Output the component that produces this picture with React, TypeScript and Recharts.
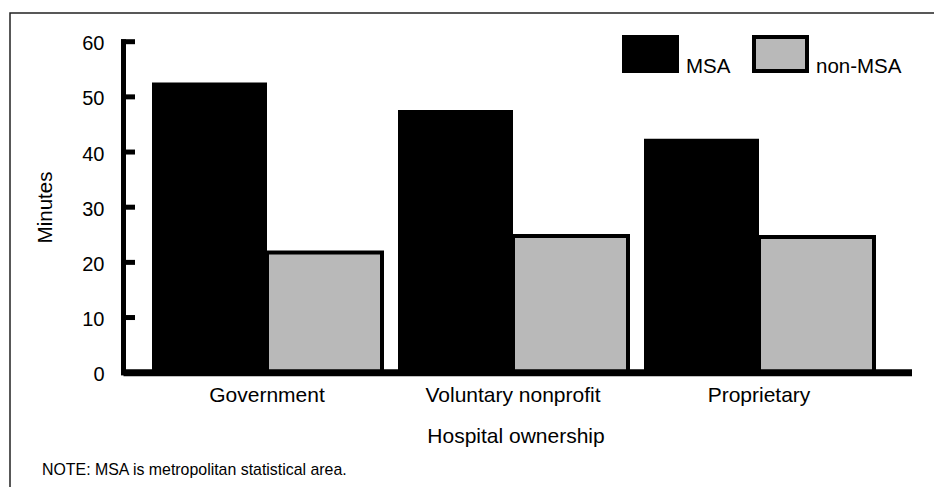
import React from 'react';
import { BarChart, Bar, XAxis, YAxis, Legend } from 'recharts';

const categories = ['Government', 'Voluntary nonprofit', 'Proprietary'];
const msaValues = [52.6, 47.6, 42.4];
const nonMsaValues = [21.8, 24.8, 24.6];
const yTicks = [0, 10, 20, 30, 40, 50, 60];
const seriesNames = { msa: 'MSA', nonMsa: 'non-MSA' };
const yAxisTitle = 'Minutes';
const xAxisTitle = 'Hospital ownership';
const noteText = 'NOTE: MSA is metropolitan statistical area.';

const data = categories.map((c, i) => ({ category: c, msa: msaValues[i], nonMsa: nonMsaValues[i] }));

const FONT = '"Liberation Sans", Arial, Helvetica, sans-serif';
const GRAY = '#b9b9b9';

const styles: Record<string, { fill: string; stroke?: string; strokeWidth?: number }> = {
  msa: { fill: '#000000' },
  nonMsa: { fill: GRAY, stroke: '#000000', strokeWidth: 4 },
};

const Y_MARGIN = 19;

const YTick = (props: any) => {
  const { x, y, payload } = props;
  const axisX = x + Y_MARGIN;
  return (
    <g>
      <line x1={axisX - 2.5} x2={axisX + 11.5} y1={y} y2={y} stroke="#000" strokeWidth={5} />
      <text x={x} y={y} dy={8.6} textAnchor="end" fontSize={20} fontFamily={FONT} fill="#000">
        {payload.value}
      </text>
    </g>
  );
};

const XTick = (props: any) => {
  const { x, y, payload } = props;
  return (
    <text x={x} y={y} dy={29.6} textAnchor="middle" fontSize={21} fontFamily={FONT} fill="#000">
      {payload.value}
    </text>
  );
};

const LegendContent = (props: any) => {
  const payload = props.payload || [];
  const positions = [0, 130];
  return (
    <svg width={300} height={42} style={{ display: 'block', overflow: 'visible' }}>
      {payload.map((entry: any, i: number) => {
        const key = entry.dataKey as string;
        const st = styles[key] || { fill: entry.color };
        const x0 = positions[i] ?? i * 130;
        const sw = st.strokeWidth || 0;
        return (
          <g key={key}>
            <rect
              x={x0 + sw / 2}
              y={sw / 2}
              width={57 - sw}
              height={38 - sw}
              fill={st.fill}
              stroke={st.stroke || 'none'}
              strokeWidth={sw}
            />
            <text x={x0 + 64} y={38} fontSize={20.5} fontFamily={FONT} fill="#000">
              {entry.value}
            </text>
          </g>
        );
      })}
    </svg>
  );
};

export default function App() {
  return (
    <div style={{ position: 'absolute', left: 0, top: 0, width: 934, height: 487, background: '#fff' }}>
      <BarChart
        width={934}
        height={487}
        data={data}
        margin={{ top: 41.7, right: 22, left: 3.5, bottom: 84.3 }}
        barGap={0}
      >
        <XAxis
          dataKey="category"
          height={30}
          tickSize={0}
          tickMargin={0}
          tickLine={false}
          axisLine={{ stroke: '#000', strokeWidth: 7 }}
          padding={{ left: 20.5, right: 30 }}
          tick={<XTick />}
          interval={0}
        />
        <YAxis
          width={120}
          domain={[0, 60]}
          ticks={yTicks}
          tickSize={0}
          tickMargin={Y_MARGIN}
          tickLine={false}
          axisLine={{ stroke: '#000', strokeWidth: 5, strokeLinecap: 'square' }}
          tick={<YTick />}
          interval={0}
        />
        <Legend
          layout="vertical"
          align="center"
          verticalAlign="middle"
          content={<LegendContent />}
          wrapperStyle={{ position: 'absolute', left: 622, top: 35, width: 300, height: 42 }}
        />
        <Bar dataKey="msa" name={seriesNames.msa} fill={styles.msa.fill} barSize={115} isAnimationActive={false} />
        <Bar
          dataKey="nonMsa"
          name={seriesNames.nonMsa}
          fill={styles.nonMsa.fill}
          stroke={styles.nonMsa.stroke}
          strokeWidth={styles.nonMsa.strokeWidth}
          barSize={115}
          isAnimationActive={false}
        />
      </BarChart>
      <svg
        width={934}
        height={487}
        style={{ position: 'absolute', left: 0, top: 0, pointerEvents: 'none' }}
      >
        <rect x={10} y={13} width={1000} height={1000} fill="none" stroke="#222" strokeWidth={1.5} />
        <text
          transform="translate(51.5,207.5) rotate(-90)"
          textAnchor="middle"
          fontSize={20.5}
          fontFamily={FONT}
          fill="#000"
        >
          {yAxisTitle}
        </text>
        <text x={516} y={443} textAnchor="middle" fontSize={21} fontFamily={FONT} fill="#000">
          {xAxisTitle}
        </text>
        <text x={42} y={474.5} fontSize={15.9} fontFamily={FONT} fill="#000">
          {noteText}
        </text>
      </svg>
    </div>
  );
}
